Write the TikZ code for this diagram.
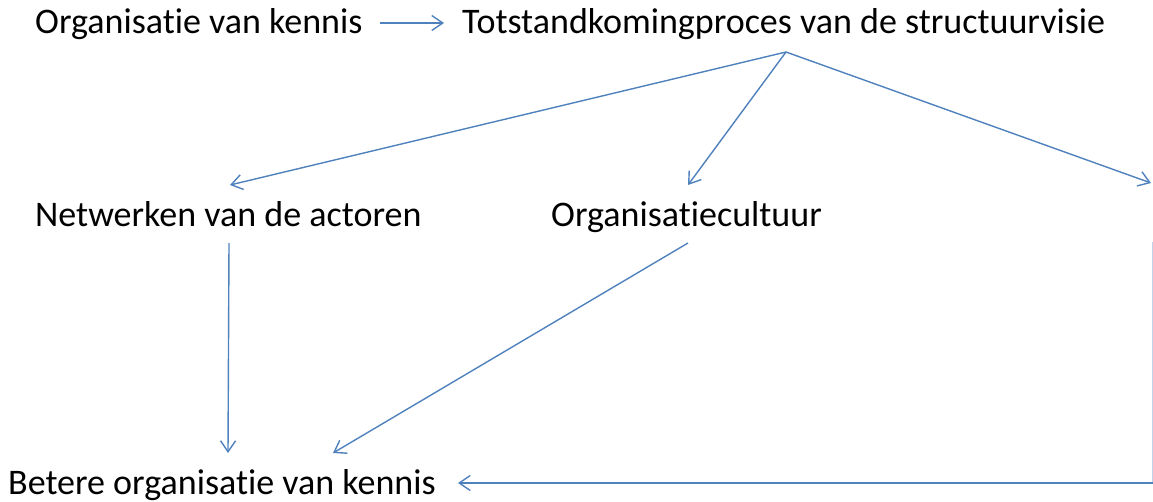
\documentclass[tikz,border=0pt]{standalone}
\usepackage{fontspec}
\setmainfont[Ligatures=NoCommon]{Carlito}
\usetikzlibrary{arrows.meta}
\definecolor{arrowblue}{RGB}{79,129,189}
\tikzset{
  lbl/.style={inner sep=0pt, anchor=base west, font=\fontsize{36}{40}\selectfont, text=black},
  conn/.style={draw=arrowblue, line width=1.4pt, -{Straight Barb[length=11pt,width=15pt,line width=1.4pt]}},
  plain/.style={draw=arrowblue!35, line width=1.4pt}
}
\begin{document}
\begin{tikzpicture}[x=1pt,y=-1pt]
\useasboundingbox (0,0) rectangle (1153,501);
\node[lbl] (ovk) at (35,33) {Organisatie van kennis};
\node[lbl] (tot) at (462,33) {Totstandkomingproces van de structuurvisie};
\node[lbl] (net) at (35,226) {Netwerken van de actoren};
\node[lbl] (cult) at (551,226) {Organisatiecultuur};
\node[lbl] (bet) at (8,494) {Betere organisatie van kennis};

\coordinate (ovkR) at (380,23);
\coordinate (totL) at (444,23);
\coordinate (apex) at (786,52);
\coordinate (netT) at (230,185);
\coordinate (cultT) at (688,185);
\coordinate (rightT) at (1151,183);
\coordinate (netB) at (229,243);
\coordinate (betA) at (228,453);
\coordinate (cultB) at (688,243);
\coordinate (betB) at (333,453);
\coordinate (rtop) at (1153,242);
\coordinate (rcorner) at (1153,483);
\coordinate (betR) at (458,483);

\draw[conn] (ovkR) -- (totL);
\draw[conn] (apex) -- (netT);
\draw[conn] (apex) -- (cultT);
\draw[conn] (apex) -- (rightT);
\draw[conn] (netB) -- (betA);
\draw[conn] (cultB) -- (betB);
\draw[plain] (rtop) -- (rcorner);
\draw[conn] (rcorner) -- (betR);
\end{tikzpicture}
\end{document}
